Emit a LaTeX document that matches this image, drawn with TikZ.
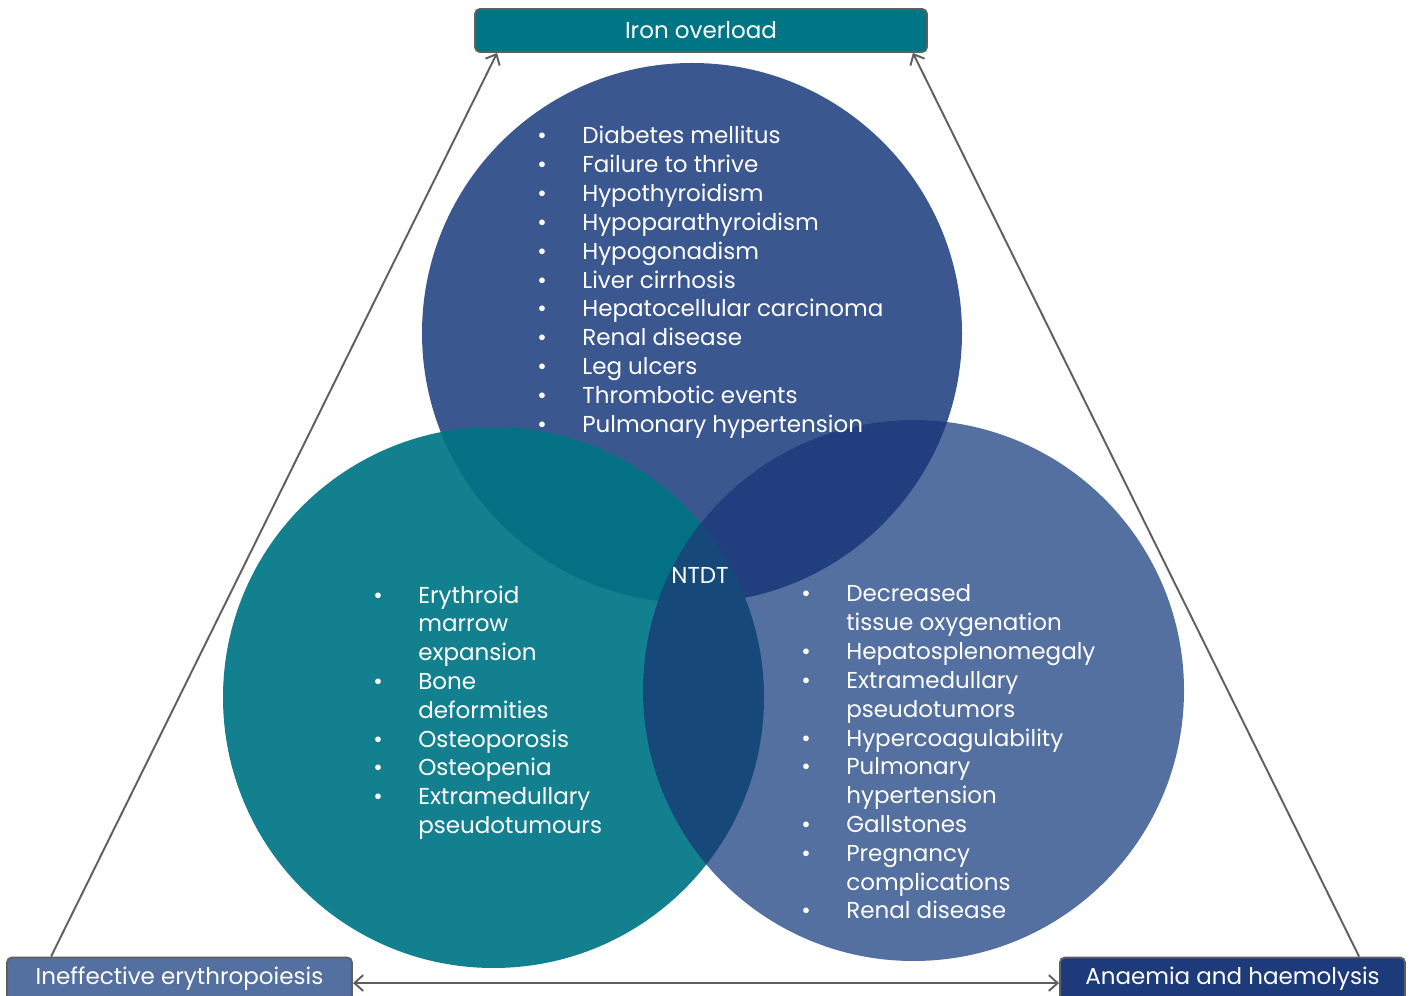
\documentclass[tikz,border=0pt]{standalone}
\usepackage{fontspec}
\setmainfont{Poppins}
\usetikzlibrary{arrows.meta,calc}

\definecolor{topblue}{RGB}{59,87,144}
\definecolor{leftteal}{RGB}{19,128,144}
\definecolor{rightblue}{RGB}{84,112,160}
\definecolor{tlmix}{RGB}{4,112,132}
\definecolor{trmix}{RGB}{33,63,127}
\definecolor{lrmix}{RGB}{22,73,122}
\definecolor{ironfill}{RGB}{0,117,133}
\definecolor{anaemiafill}{RGB}{29,58,122}
\definecolor{edgegray}{RGB}{95,95,95}

\newcommand{\listfont}{\fontsize{13.1pt}{16.4pt}\selectfont}
\newcommand{\bul}{\textbullet}

\tikzset{
  >={Straight Barb[length=5pt,width=9pt,line width=1.1pt]},
  headbox/.style={draw=edgegray, line width=1.1pt, rounded corners=2.8pt,
    text=white, font=\listfont, inner sep=0pt,
    minimum width=#1, minimum height=0.86cm},
  link/.style={draw=edgegray, line width=1.1pt},
  listtext/.style={text=white, font=\listfont, inner sep=0pt, anchor=base west}
}

\begin{document}
\begin{tikzpicture}[x=0.02cm,y=-0.02cm]
  \useasboundingbox (0,0) rectangle (1410,996);

  % the three discs
  \def\topdisc{(692,333) circle (270)}
  \def\leftdisc{(493.5,697.5) circle (270.5)}
  \def\rightdisc{(913.5,690.5) circle (270.5)}
  \fill[topblue] \topdisc;
  \fill[leftteal] \leftdisc;
  \fill[rightblue] \rightdisc;
  \begin{scope}
    \clip \topdisc;
    \fill[tlmix] \leftdisc;
    \fill[trmix] \rightdisc;
  \end{scope}
  \begin{scope}
    \clip \leftdisc;
    \fill[lrmix] \rightdisc;
  \end{scope}

  % boxes
  \node[headbox=9.04cm, fill=ironfill] (iron) at (701,30.5) {Iron overload};
  \node[headbox=6.9cm, fill=rightblue] (ineff) at (179.5,979) {Ineffective erythropoiesis};
  \node[headbox=6.9cm, fill=anaemiafill] (anaemia) at (1232.5,979) {Anaemia and haemolysis};

  % arrows
  \draw[link,->] ($(ineff.north west)+(45,0)$) -- ($(iron.south west)+(23,0)$);
  \draw[link,->] ($(anaemia.north west)+(300,0)$) -- ($(iron.south east)+(-15,0)$);
  \draw[link,<->] ([yshift=-2.3pt]ineff.east) -- ([yshift=-2.3pt]anaemia.west);

  % lists
  \node[listtext] (ironlist) at (537,144) {%
    \begin{tabular}[t]{@{}p{25.6pt}@{}l@{}}
      \bul & Diabetes mellitus\\
      \bul & Failure to thrive\\
      \bul & Hypothyroidism\\
      \bul & Hypoparathyroidism\\
      \bul & Hypogonadism\\
      \bul & Liver cirrhosis\\
      \bul & Hepatocellular carcinoma\\
      \bul & Renal disease\\
      \bul & Leg ulcers\\
      \bul & Thrombotic events\\
      \bul & Pulmonary hypertension
    \end{tabular}};
  \node[listtext] (eryhtrolist) at (373,603) {%
    \begin{tabular}[t]{@{}p{25.6pt}@{}l@{}}
      \bul & Erythroid\\
           & marrow\\
           & expansion\\
      \bul & Bone\\
           & deformities\\
      \bul & Osteoporosis\\
      \bul & Osteopenia\\
      \bul & Extramedullary\\
           & pseudotumours
    \end{tabular}};
  \node[listtext] (anaemialist) at (801,602) {%
    \begin{tabular}[t]{@{}p{25.6pt}@{}l@{}}
      \bul & Decreased\\
           & tissue oxygenation\\
      \bul & Hepatosplenomegaly\\
      \bul & Extramedullary\\
           & pseudotumors\\
      \bul & Hypercoagulability\\
      \bul & Pulmonary\\
           & hypertension\\
      \bul & Gallstones\\
      \bul & Pregnancy\\
           & complications\\
      \bul & Renal disease
    \end{tabular}};

  \node[text=white, font=\listfont, inner sep=0pt] (ntdt) at (700,575) {NTDT};
\end{tikzpicture}
\end{document}
